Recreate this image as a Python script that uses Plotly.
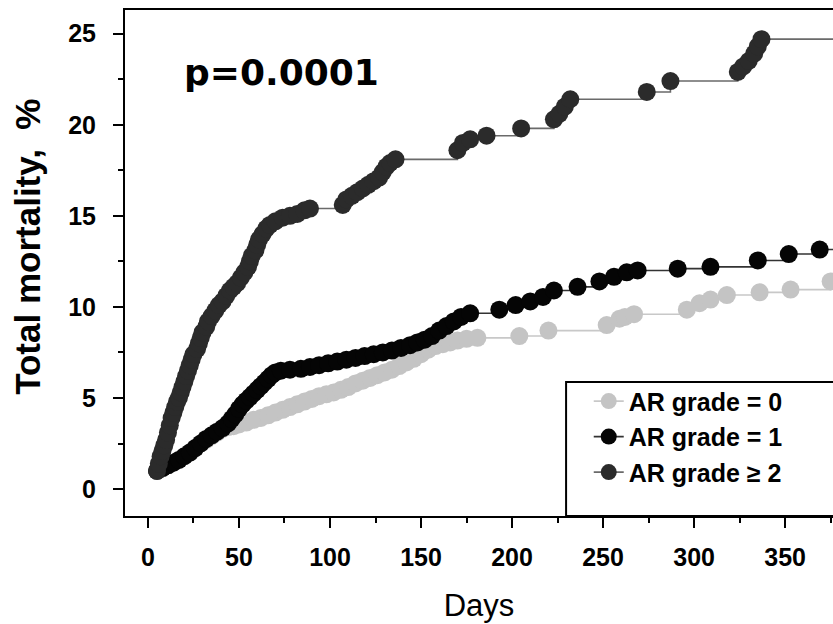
import plotly.graph_objects as go

# Cumulative total mortality (%) at each death, by aortic regurgitation grade
grade0_days = [5, 8, 11, 14, 17, 20, 23, 26, 29, 32, 35, 38, 41, 44, 47, 50, 54, 58, 62, 66,
               70, 74, 78, 82, 86, 90, 94, 98, 102, 106, 110, 114, 118, 122, 126, 130, 134,
               138, 142, 146, 150, 154, 158, 162, 166, 170, 175, 181, 204, 220, 252, 259,
               262, 267, 296, 303, 309, 318, 336, 353, 375]
grade0_pct = [1.0, 1.15, 1.3, 1.45, 1.6, 1.8, 2.0, 2.25, 2.5, 2.7, 2.9, 3.1, 3.3, 3.4, 3.45,
              3.55, 3.65, 3.8, 3.9, 4.05, 4.2, 4.35, 4.5, 4.65, 4.8, 4.95, 5.1, 5.2, 5.3,
              5.45, 5.6, 5.8, 5.95, 6.1, 6.25, 6.4, 6.55, 6.75, 6.95, 7.15, 7.4, 7.65, 7.85,
              7.95, 8.05, 8.15, 8.25, 8.3, 8.4, 8.7, 9.0, 9.35, 9.45, 9.6, 9.85, 10.2, 10.4,
              10.65, 10.8, 10.95, 11.4]

grade1_days = [5, 8, 11, 14, 17, 20, 23, 26, 29, 32, 35, 38, 41, 44, 46, 48, 50, 52, 54, 56,
               58, 60, 62, 64, 66, 68, 70, 73, 78, 84, 89, 94, 99, 104, 109, 114, 119, 124,
               129, 134, 139, 144, 148, 152, 156, 160, 164, 168, 172, 177, 193, 202, 210,
               217, 223, 236, 248, 256, 263, 269, 291, 309, 335, 352, 369]
grade1_pct = [1.0, 1.15, 1.3, 1.45, 1.6, 1.8, 2.0, 2.25, 2.5, 2.75, 2.95, 3.15, 3.35, 3.6,
              3.85, 4.1, 4.4, 4.65, 4.85, 5.05, 5.25, 5.45, 5.65, 5.85, 6.05, 6.25, 6.4, 6.5,
              6.55, 6.6, 6.7, 6.8, 6.9, 7.0, 7.1, 7.2, 7.3, 7.4, 7.5, 7.6, 7.75, 7.9, 8.05,
              8.2, 8.4, 8.7, 8.95, 9.2, 9.45, 9.65, 9.85, 10.1, 10.3, 10.55, 10.9, 11.1, 11.4,
              11.65, 11.9, 12.0, 12.1, 12.2, 12.55, 12.9, 13.15]

grade2_days = [5, 6, 7, 8, 9, 10, 11, 12, 13, 14, 15, 16, 17, 18, 19, 20, 21, 22, 23, 24, 25,
               27, 28, 29, 30, 32, 33, 35, 37, 39, 41, 43, 45, 47, 49, 51, 53, 55, 56, 57, 59,
               60, 61, 63, 65, 67, 70, 74, 78, 82, 86, 89, 107, 109, 112, 115, 118, 121, 124,
               127, 129, 131, 133, 136, 170, 173, 177, 186, 205, 223, 226, 229, 232, 274, 287,
               324, 327, 330, 333, 335, 337]
grade2_pct = [1.0, 1.4, 1.8, 2.1, 2.4, 2.7, 3.1, 3.5, 3.9, 4.2, 4.5, 4.8, 5.0, 5.3, 5.6, 5.9,
              6.2, 6.5, 6.8, 7.1, 7.4, 7.7, 8.0, 8.3, 8.6, 8.9, 9.2, 9.5, 9.8, 10.1, 10.3,
              10.6, 10.9, 11.1, 11.3, 11.6, 11.9, 12.2, 12.5, 12.8, 13.1, 13.4, 13.7, 14.0,
              14.3, 14.5, 14.7, 14.9, 15.0, 15.1, 15.3, 15.4, 15.6, 15.9, 16.1, 16.3, 16.5,
              16.7, 16.9, 17.1, 17.4, 17.7, 17.9, 18.1, 18.6, 19.0, 19.2, 19.4, 19.8, 20.3,
              20.6, 21.0, 21.4, 21.8, 22.4, 22.9, 23.2, 23.5, 23.9, 24.3, 24.7]

follow_up_end = 380

series_names = ["AR grade = 0", "AR grade = 1", "AR grade \u2265 2"]
x_ticks = [0, 50, 100, 150, 200, 250, 300, 350]
y_ticks = [0, 5, 10, 15, 20, 25]

styles = [
    dict(marker="#c4c4c4", line="#c8c8c8"),
    dict(marker="#050505", line="#333333"),
    dict(marker="#2b2b2b", line="#6a6a6a"),
]

fig = go.Figure()
for name, days, pct, st in zip(series_names,
                               [grade0_days, grade1_days, grade2_days],
                               [grade0_pct, grade1_pct, grade2_pct],
                               styles):
    # step curve carried on to the end of follow-up; no marker on the censoring end
    xs = days + [follow_up_end]
    ys = pct + [pct[-1]]
    sizes = [18] * len(days) + [0]
    fig.add_trace(go.Scatter(
        x=xs, y=ys, name=name, mode="lines+markers",
        line=dict(shape="hv", color=st["line"], width=1.6),
        marker=dict(size=sizes, color=st["marker"], opacity=1, line=dict(width=0)),
    ))

tick_font = dict(family="Liberation Sans, Arial", size=25, color="black", weight="bold")

fig.update_layout(
    width=833, height=624,
    margin=dict(l=125, r=0, t=10, b=108),
    plot_bgcolor="white", paper_bgcolor="white",
    showlegend=True,
    legend=dict(
        x=0.655, y=0.272, xanchor="left", yanchor="top",
        bgcolor="rgba(0,0,0,0)", borderwidth=0,
        font=dict(family="Liberation Sans, Arial", size=25, color="black", weight="bold"),
        itemsizing="trace",
    ),
    xaxis=dict(
        range=[-12.6, 376.3], tickvals=x_ticks, ticks="outside", ticklen=10, tickwidth=2,
        tickcolor="black", showline=True, linecolor="black", linewidth=2, mirror=True,
        showgrid=False, zeroline=False, tickfont=tick_font, ticklabelstandoff=8,
        minor=dict(dtick=25, tick0=0, ticks="outside", ticklen=5, tickwidth=2, tickcolor="black"),
        title=dict(text="Days", font=dict(family="Liberation Sans, Arial", size=31, color="black"),
                   standoff=24),
    ),
    yaxis=dict(
        range=[-1.48, 26.3], tickvals=y_ticks, ticks="outside", ticklen=10, tickwidth=2,
        tickcolor="black", showline=True, linecolor="black", linewidth=2,
        showgrid=False, zeroline=False, tickfont=tick_font, ticklabelstandoff=12,
        minor=dict(dtick=2.5, tick0=0, ticks="outside", ticklen=5, tickwidth=2, tickcolor="black"),
    ),
    shapes=[dict(type="rect", xref="paper", yref="paper", x0=0.623, x1=1.05, y0=0, y1=0.265,
                 line=dict(color="black", width=2), fillcolor="rgba(0,0,0,0)", layer="above")],
    annotations=[
        dict(text="p=0.0001", xref="paper", yref="paper", x=0.08, y=0.877,
             xanchor="left", yanchor="middle", showarrow=False,
             font=dict(family="DejaVu Sans", size=36, color="black", weight="bold")),
        dict(text="Total mortality,\u00a0\u00a0%", xref="paper", yref="paper",
             x=-0.137, y=0.532, xanchor="center", yanchor="middle", textangle=-90,
             showarrow=False,
             font=dict(family="Liberation Sans, Arial", size=35, color="black", weight="bold")),
    ],
)

fig.write_html("out.html")
